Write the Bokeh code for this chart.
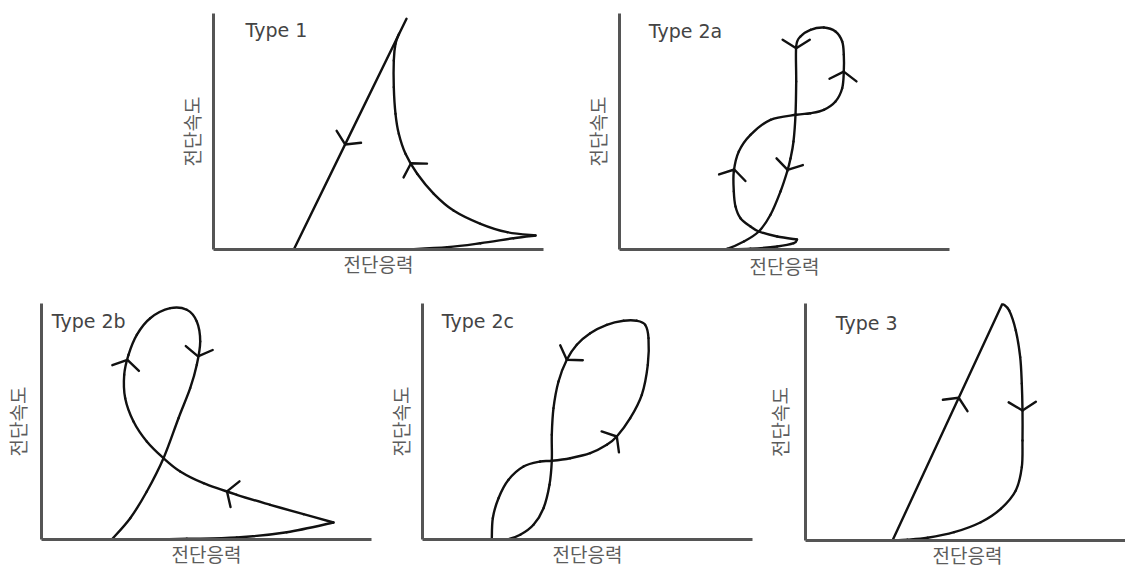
import math
from bokeh.plotting import figure
from bokeh.layouts import column, row
from bokeh.models import Range1d, FixedTicker, Label
from bokeh.embed import file_html
from bokeh.resources import INLINE

# ---------------- texts ----------------
X_LABEL = "전단응력"
Y_LABEL = "전단속도"
TITLES = ["Type 1", "Type 2a", "Type 2b", "Type 2c", "Type 3"]

# ---------------- data (shear stress x, shear rate y; arbitrary units) ----------------
# Type 1
T1_LOW_X = [192, 233.7, 267, 300, 322]
T1_LOW_Y = [0, 2.3, 6.3, 11.3, 14]
T1_RISE_X = [322, 293.7, 267, 240, 220.3, 203.7, 192, 185.3, 182, 180.3, 180.3, 182, 185.5]
T1_RISE_Y = [14, 17.3, 25.7, 39, 55.7, 75.7, 95.7, 115.7, 135.7, 162.3, 189, 205.7, 215.7]
T1_DOWN_X = [193, 80.3]
T1_DOWN_Y = [230.7, 0]
T1_ARROW_X = [130.3, 197]
T1_ARROW_Y = [105.7, 86]

# Type 2a
T2A_LOW_X = [108, 131, 157.7, 174.3, 177.5]
T2A_LOW_Y = [0, 0.7, 3, 6.3, 10]
T2A_LOOP_X = [177.5, 157.7, 139.3, 131, 121, 116, 114.3, 114.3, 119.3, 131, 151, 176.7, 191, 204.3,
              216, 222.7, 224.3, 224.3, 222.7, 216, 204.3, 191, 181, 176.7, 176.7, 176, 174, 171,
              167.7, 161, 151, 139.3, 124.3, 107.7, 99]
T2A_LOOP_Y = [10, 13, 18, 23, 31.3, 43, 58, 78, 98, 114.7, 129.7, 134.7, 136.3, 139.7,
              148, 161.3, 178, 194.7, 208, 218, 222, 219.7, 213, 203, 168, 134.7, 108, 91,
              78, 58, 34.7, 18, 8, 0.7, 0]
T2A_ARROW_X = [116, 167.7, 222.7, 176.7]
T2A_ARROW_Y = [79.7, 79.7, 178, 201.3]

# Type 2b
T2B_LOW_X = [70.3, 95.3, 145.3, 195.3, 245.3, 292]
T2B_LOW_Y = [0, 0, 0.7, 2, 7.3, 17]
T2B_LOOP_X = [292, 262, 228.7, 195.3, 162, 138.7, 122, 105.3, 92, 83.7, 82.7, 87, 95.3, 108.7,
              128.7, 145.3, 155.3, 158.7, 155.3, 148.7, 137, 122, 105.3, 88.7, 70.3]
T2B_LOOP_Y = [17, 25.3, 34.7, 44.7, 56.3, 68, 81.3, 98, 118, 141.3, 164.7, 184.7, 204.7, 221.3,
              231.3, 229.7, 218, 198, 174.7, 151.3, 121.3, 81.3, 48, 21.3, 0]
T2B_ARROW_X = [183.7, 86, 157]
T2B_ARROW_Y = [43, 179.7, 183]

# Type 2c
T2C_X = [69.3, 70.3, 76, 86, 101, 117.7, 129.3, 147.7, 167.7, 184.3, 194.3, 207.7, 219.3, 225.3,
         226, 222.7, 214.3, 201, 184.3, 167.7, 154.3, 144.3, 136, 131, 129.3, 129.3, 127, 121,
         111, 97.7, 84.3, 71]
T2C_Y = [0, 21.3, 41.3, 59.7, 73, 78, 78.7, 81.3, 86.3, 94.7, 103, 121.3, 144.7, 174.7,
         201.3, 214.7, 218.7, 218.7, 214.7, 206.3, 194.7, 179.7, 158, 131.3, 104.7, 78.7, 54.7, 31.3,
         14.7, 4.7, 0, 0]
T2C_ARROW_X = [194.3, 144.3]
T2C_ARROW_Y = [103, 179.7]

# Type 3
T3_UP_X = [87, 197]
T3_UP_Y = [0, 237]
T3_DOWN_X = [197, 203.7, 210.3, 214.7, 216.3, 217, 217, 216.3, 210.3, 195.3, 175.3, 148.7, 122, 102, 87]
T3_DOWN_Y = [237, 230, 210, 183.3, 156.7, 130, 100, 73.3, 50, 31.7, 18.3, 8.3, 2.7, 0.7, 0]
T3_ARROW_X = [152, 217]
T3_ARROW_Y = [143.3, 130]

# ---------------- styles ----------------
CURVE_COLOR = "#111111"
AXIS_COLOR = "#555555"
LABEL_COLOR = "#5c5c5c"
TITLE_COLOR = "#444444"
KFONT = "Noto Sans CJK KR"
KSIZE = "19px"


def bezier_segments(xs, ys):
    """Smooth (Catmull-Rom) cubic pieces through the read points, drawn by Bokeh's bezier glyph."""
    n = len(xs)
    out = {k: [] for k in ("x0", "y0", "x1", "y1", "cx0", "cy0", "cx1", "cy1")}
    for i in range(n - 1):
        a = max(i - 1, 0)
        d = min(i + 2, n - 1)
        out["x0"].append(xs[i]); out["y0"].append(ys[i])
        out["x1"].append(xs[i + 1]); out["y1"].append(ys[i + 1])
        out["cx0"].append(xs[i] + (xs[i + 1] - xs[a]) / 6.0)
        out["cy0"].append(ys[i] + (ys[i + 1] - ys[a]) / 6.0)
        out["cx1"].append(xs[i + 1] - (xs[d] - xs[i]) / 6.0)
        out["cy1"].append(ys[i + 1] - (ys[d] - ys[i]) / 6.0)
    return out


def chevrons(strokes, ax, ay, sx, sy, arm=16.0, half=math.radians(58)):
    cxs, cys = [], []
    for px, py in zip(ax, ay):
        best = None
        for xs, ys in strokes:
            for i in range(len(xs) - 1):
                x0, y0 = xs[i] * sx, ys[i] * sy
                x1, y1 = xs[i + 1] * sx, ys[i + 1] * sy
                dx, dy = x1 - x0, y1 - y0
                L2 = dx * dx + dy * dy
                if L2 == 0:
                    continue
                t = max(0.0, min(1.0, ((px * sx - x0) * dx + (py * sy - y0) * dy) / L2))
                qx, qy = x0 + t * dx, y0 + t * dy
                dist = (qx - px * sx) ** 2 + (qy - py * sy) ** 2
                if best is None or dist < best[0]:
                    L = math.sqrt(L2)
                    best = (dist, qx, qy, dx / L, dy / L)
        _, tx, ty, ux, uy = best
        bx, by = -ux, -uy
        pts_x, pts_y = [], []
        for sgn in (1, -1):
            c, s = math.cos(sgn * half), math.sin(sgn * half)
            ex = tx + arm * (bx * c - by * s)
            ey = ty + arm * (bx * s + by * c)
            pts_x.append(ex / sx); pts_y.append(ey / sy)
        cxs.append([pts_x[0], tx / sx, pts_x[1]])
        cys.append([pts_y[0], ty / sy, pts_y[1]])
    return cxs, cys


def make_panel(title, strokes, arrow_x, arrow_y, frame_w, frame_h, x_max, y_max,
               bl, br, bt, bb, title_x, title_y, ylab_standoff, xlab_standoff):
    p = figure(frame_width=frame_w, frame_height=frame_h,
               x_range=Range1d(0, x_max), y_range=Range1d(0, y_max),
               output_backend="svg", toolbar_location=None,
               min_border_left=bl, min_border_right=br, min_border_top=bt, min_border_bottom=bb)
    p.grid.visible = False
    p.outline_line_color = None
    p.background_fill_color = "white"
    p.border_fill_color = "white"
    for axis in (p.xaxis[0], p.yaxis[0]):
        axis.ticker = FixedTicker(ticks=[])
        axis.major_tick_out = 0
        axis.major_tick_in = 0
        axis.minor_tick_out = 0
        axis.minor_tick_in = 0
        axis.major_label_standoff = 0
        axis.axis_line_color = AXIS_COLOR
        axis.axis_line_width = 3
        axis.axis_label_text_font = KFONT
        axis.axis_label_text_font_size = KSIZE
        axis.axis_label_text_font_style = "normal"
        axis.axis_label_text_color = LABEL_COLOR
    p.xaxis.axis_label = X_LABEL
    p.xaxis.axis_label_standoff = xlab_standoff
    p.yaxis.axis_label = Y_LABEL
    p.yaxis.axis_label_standoff = ylab_standoff

    sx = frame_w / x_max
    sy = frame_h / y_max
    for xs, ys in strokes:
        seg = bezier_segments(xs, ys)
        p.bezier(x0=seg["x0"], y0=seg["y0"], x1=seg["x1"], y1=seg["y1"],
                 cx0=seg["cx0"], cy0=seg["cy0"], cx1=seg["cx1"], cy1=seg["cy1"],
                 line_color=CURVE_COLOR, line_width=2.4, line_cap="round")
    cxs, cys = chevrons(strokes, arrow_x, arrow_y, sx, sy)
    p.multi_line(xs=cxs, ys=cys, line_color=CURVE_COLOR, line_width=2.4,
                 line_cap="round", line_join="round")

    p.add_layout(Label(x=title_x, y=title_y, text=title, text_font="DejaVu Sans",
                       text_font_size="19px", text_color=TITLE_COLOR,
                       text_align="left", text_baseline="alphabetic"))
    return p


p1 = make_panel(TITLES[0], [(T1_LOW_X, T1_LOW_Y), (T1_RISE_X, T1_RISE_Y), (T1_DOWN_X, T1_DOWN_Y)],
                T1_ARROW_X, T1_ARROW_Y, 330, 236, 330, 236, 213, 10, 13, 43, 32, 220, 9, 0)
p2 = make_panel(TITLES[1], [(T2A_LOW_X, T2A_LOW_Y), (T2A_LOOP_X, T2A_LOOP_Y)],
                T2A_ARROW_X, T2A_ARROW_Y, 330, 236, 330, 236, 66, 10, 13, 43, 29.3, 219, 9, 2)
p3 = make_panel(TITLES[2], [(T2B_LOW_X, T2B_LOW_Y), (T2B_LOOP_X, T2B_LOOP_Y)],
                T2B_ARROW_X, T2B_ARROW_Y, 330, 236, 330, 236, 38, 10, 10, 27, 10.3, 219, 11, 0)
p4 = make_panel(TITLES[3], [(T2C_X, T2C_Y)],
                T2C_ARROW_X, T2C_ARROW_Y, 330, 236, 330, 236, 41, 10, 10, 27, 19.3, 219, 9, 0)
p5 = make_panel(TITLES[4], [(T3_UP_X, T3_UP_Y), (T3_DOWN_X, T3_DOWN_Y)],
                T3_ARROW_X, T3_ARROW_Y, 324, 237, 324, 237, 39, 1, 11, 25, 30.3, 218, 13, 0)

layout = column(row(p1, p2), row(p3, p4, p5))
open("out.html", "w").write(file_html(layout, INLINE))
